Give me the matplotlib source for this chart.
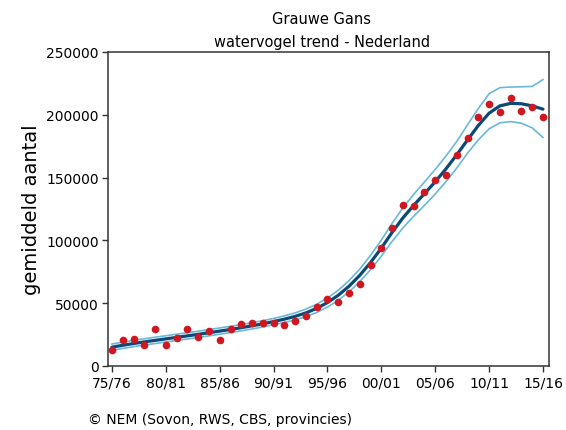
import matplotlib
matplotlib.use("Agg")
import matplotlib.pyplot as plt

# seizoenen 1975/76 .. 2015/16
years = list(range(1975, 2016))

# getelde gemiddelden per seizoen
counts = [13000, 20700, 21700, 17000, 29500, 17000, 22000, 29500, 23000, 28000,
          20700, 29500, 33200, 34500, 34200, 34200, 32900, 35600, 39600, 47000,
          53300, 50700, 58100, 65500, 80700, 94200, 109500, 128300, 127100, 138300,
          148300, 152000, 168200, 181800, 198000, 208400, 202000, 213100, 203300, 206000,
          198000]

# trend en betrouwbaarheidsband
trend = [15000, 16500, 17900, 19200, 20400, 21600, 22800, 24000, 25200, 26500,
         27800, 29100, 30500, 32000, 33600, 35400, 37300, 39500, 42300, 45900,
         50500, 56300, 63500, 72200, 82400, 93900, 106400, 117900, 127900, 137200,
         146700, 157000, 168200, 180000, 191500, 201300, 207100, 209100, 208800, 207100,
         204500]
upper = [17500, 19000, 20400, 21700, 22900, 24100, 25300, 26500, 27700, 29000,
         30300, 31600, 33000, 34500, 36100, 37900, 39900, 42300, 45300, 49200,
         54100, 60300, 68000, 77200, 88100, 100300, 113600, 125900, 136600, 146500,
         156500, 167200, 178800, 192000, 205000, 216800, 221600, 222100, 222300, 222600,
         228000]
lower = [12500, 14000, 15400, 16700, 17900, 19100, 20300, 21500, 22700, 24000,
         25300, 26600, 28000, 29500, 31100, 32900, 34700, 36700, 39300, 42600,
         46900, 52300, 59000, 67200, 76700, 87500, 99200, 109900, 119200, 127900,
         136900, 146800, 157600, 169500, 180000, 188800, 193600, 194600, 193300, 189600,
         182000]

xticks = list(range(1975, 2016, 5))
xticklabels = ["75/76", "80/81", "85/86", "90/91", "95/96", "00/01", "05/06", "10/11", "15/16"]
yticks = [0, 50000, 100000, 150000, 200000, 250000]

plt.rcParams["font.family"] = ["DejaVu Sans"]

fig = plt.figure(figsize=(5.66, 4.31), dpi=100)
ax = fig.add_axes([108 / 566, 1 - 367 / 431, 441 / 566, 314 / 431])

# band, trendlijn en tellingen
ax.plot(years, upper, color="#6ab8da", lw=1.2, zorder=2)
ax.plot(years, lower, color="#6ab8da", lw=1.2, zorder=2)
ax.plot(years, trend, color="#0b4a78", lw=2.3, zorder=3, solid_capstyle="round")
ax.plot(years, counts, "o", color="#d0161e", ms=5.5, mec="none", zorder=4)

ax.set_xlim(1974.63, 2015.56)
ax.set_ylim(0, 250000)
ax.set_xticks(xticks)
ax.set_xticklabels(xticklabels, fontsize=10)
ax.set_yticks(yticks)
ax.set_yticklabels([str(v) for v in yticks], fontsize=10)
ax.tick_params(axis="both", direction="out", length=4.5, width=1.0, color="#333333", pad=2)
ax.tick_params(top=False, right=False)
for s in ax.spines.values():
    s.set_color("#333333")
    s.set_linewidth(1.1)

ax.set_ylabel("gemiddeld aantal", fontsize=14, labelpad=4)

fig.text(322 / 566, 1 - 20 / 431, "Grauwe Gans", ha="center", va="center", fontsize=10.5)
fig.text(322 / 566, 1 - 42 / 431, "watervogel trend - Nederland", ha="center", va="center", fontsize=10.5)
fig.text(88 / 566, 1 - 420 / 431, "\u00a9 NEM (Sovon, RWS, CBS, provincies)", ha="left", va="center", fontsize=10)

fig.savefig("out.png", dpi=100)
